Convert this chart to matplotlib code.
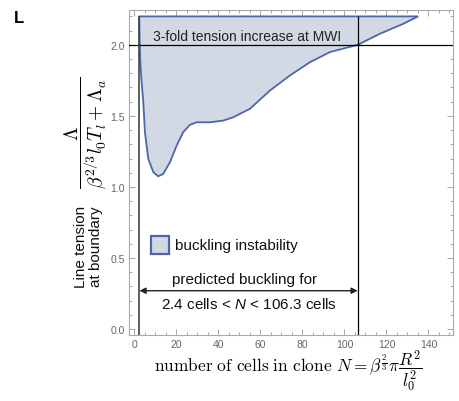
import matplotlib
matplotlib.use("Agg")
import matplotlib.pyplot as plt
from matplotlib.patches import Rectangle
from matplotlib.ticker import MultipleLocator

plt.rcParams['font.family'] = ['Liberation Sans', 'DejaVu Sans']
plt.rcParams['mathtext.fontset'] = 'cm'
plt.rcParams['mathtext.it'] = 'Liberation Sans:italic'
plt.rcParams['mathtext.rm'] = 'Liberation Sans'

# lower edge of the buckling region
curve_n = [2.3, 2.5, 2.9, 3.5, 4.2, 5.0, 6.6, 9.0, 11.3, 13.7, 16.9, 20.1, 23.2, 26.4,
           29.6, 36.0, 42.3, 47.0, 55.0, 64.5, 74.0, 83.6, 93.1, 106.3, 116.9,
           128.0, 135.1]
curve_tension = [2.20, 2.00, 1.85, 1.72, 1.60, 1.385, 1.197, 1.104, 1.075, 1.092, 1.174,
                 1.291, 1.385, 1.437, 1.455, 1.455, 1.467, 1.49, 1.55, 1.678,
                 1.784, 1.878, 1.949, 2.0, 2.078, 2.148, 2.20]
n_low, n_high = 2.4, 106.3
mwi_level = 2.0
top_level = 2.2

fill_col = '#d3d9e4'
edge_col = '#4c66a6'
grey = '#666666'

fig = plt.figure(figsize=(4.59, 4.02), dpi=100)
ax = fig.add_axes([0.281, 0.164, 0.706, 0.809])

ax.fill(curve_n, curve_tension, facecolor=fill_col, edgecolor=edge_col, lw=1.3, zorder=2)
ax.axhline(mwi_level, color='black', lw=0.9, zorder=3)
ax.vlines([n_low], -0.1, top_level, color='#444444', lw=1.2, zorder=3)
ax.vlines([n_high], -0.1, top_level, color='black', lw=0.9, zorder=3)

ax.text(8.8, 2.063, "3-fold tension increase at MWI", fontsize=10, color='#222222',
        va='center', ha='left', zorder=4)

# legend-like box
ax.add_patch(Rectangle((8.1, 0.528), 8.57, 0.127, facecolor=fill_col,
                       edgecolor=edge_col, lw=1.6, zorder=4))
ax.text(19.3, 0.592, "buckling instability", fontsize=11, color='#111111',
        va='center', ha='left')

ax.annotate("", xy=(n_low, 0.27), xytext=(n_high, 0.27),
            arrowprops=dict(arrowstyle='<|-|>', color='#222222', lw=1.0,
                            mutation_scale=9, shrinkA=0, shrinkB=0))
ax.text(52.6, 0.355, "predicted buckling for", fontsize=11, color='#111111',
        ha='center', va='center')
ax.text(54.5, 0.18, "2.4 cells < $N$ < 106.3 cells", fontsize=11, color='#111111',
        ha='center', va='center', math_fontfamily='custom')

ax.set_xlim(-2.6, 151.7)
ax.set_ylim(-0.042, 2.246)
ax.xaxis.set_major_locator(MultipleLocator(20))
ax.xaxis.set_minor_locator(MultipleLocator(5))
ax.yaxis.set_major_locator(MultipleLocator(0.5))
ax.yaxis.set_minor_locator(MultipleLocator(0.1))
ax.yaxis.set_major_formatter(matplotlib.ticker.FormatStrFormatter('%.1f'))
ax.tick_params(which='both', direction='in', top=True, right=True, colors='#999999',
               labelcolor=grey, labelsize=7.5, width=0.6)
ax.tick_params(which='major', length=4, pad=3)
ax.tick_params(which='minor', length=2)
for s in ax.spines.values():
    s.set_color('#aaaaaa')
    s.set_linewidth(0.8)

fig.text(0.5 * (0.281 + 0.987) - 0.005, 0.075,
         r"$\mathrm{number\ of\ cells\ in\ clone}\ N=\beta^{\frac{2}{3}}\pi\dfrac{R^2}{l_0^2}$",
         fontsize=12.5, ha='center', va='center')
fig.text(0.186, 0.669, r"$\dfrac{\Lambda}{\beta^{2/3}l_0T_l+\Lambda_a}$", fontsize=14,
         rotation=90, ha='center', va='center')
fig.text(0.193, 0.386, "Line tension\nat boundary", fontsize=11, rotation=90,
         ha='center', va='center', linespacing=1.15, color='#111111')
fig.text(0.03, 0.955, "L", fontsize=12, fontweight='bold', ha='left', va='center')

fig.savefig("out.png", dpi=100)
